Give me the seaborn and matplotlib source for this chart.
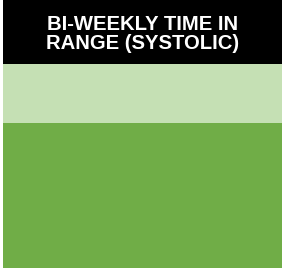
import matplotlib
matplotlib.use('Agg')
import matplotlib.pyplot as plt
import seaborn as sns
import pandas as pd

title = 'BI-WEEKLY TIME IN\nRANGE (SYSTOLIC)'
periods = ['Bi-weekly']
in_range = [71]
out_of_range = [29]

data = pd.DataFrame({'period': periods,
                     'in_range': in_range,
                     'total': [a + b for a, b in zip(in_range, out_of_range)]})

sns.set_style('white')
plt.rcParams['font.family'] = ['Liberation Sans', 'DejaVu Sans']

fig = plt.figure(figsize=(2.82, 2.68), dpi=100)

# header
hdr = fig.add_axes([3 / 282, 204 / 268, 279 / 282, 64 / 268])
hdr.set_facecolor('black')
hdr.set_xticks([])
hdr.set_yticks([])
for s in hdr.spines.values():
    s.set_visible(False)
hdr.text(0.5, 0.47, title, color='white', fontsize=14.6, fontweight='bold',
         ha='center', va='center', linespacing=1.05, transform=hdr.transAxes)

# stacked bar
ax = fig.add_axes([3 / 282, 0, 279 / 282, 204 / 268])
sns.barplot(data=data, x='period', y='total', color='#C5E0B4', width=1,
            saturation=1, linewidth=0, ax=ax)
sns.barplot(data=data, x='period', y='in_range', color='#70AD47', width=1,
            saturation=1, linewidth=0, ax=ax)
ax.set_xlim(-0.5, 0.5)
ax.set_ylim(0, 100)
ax.axis('off')

plt.savefig('out.png', dpi=100)
